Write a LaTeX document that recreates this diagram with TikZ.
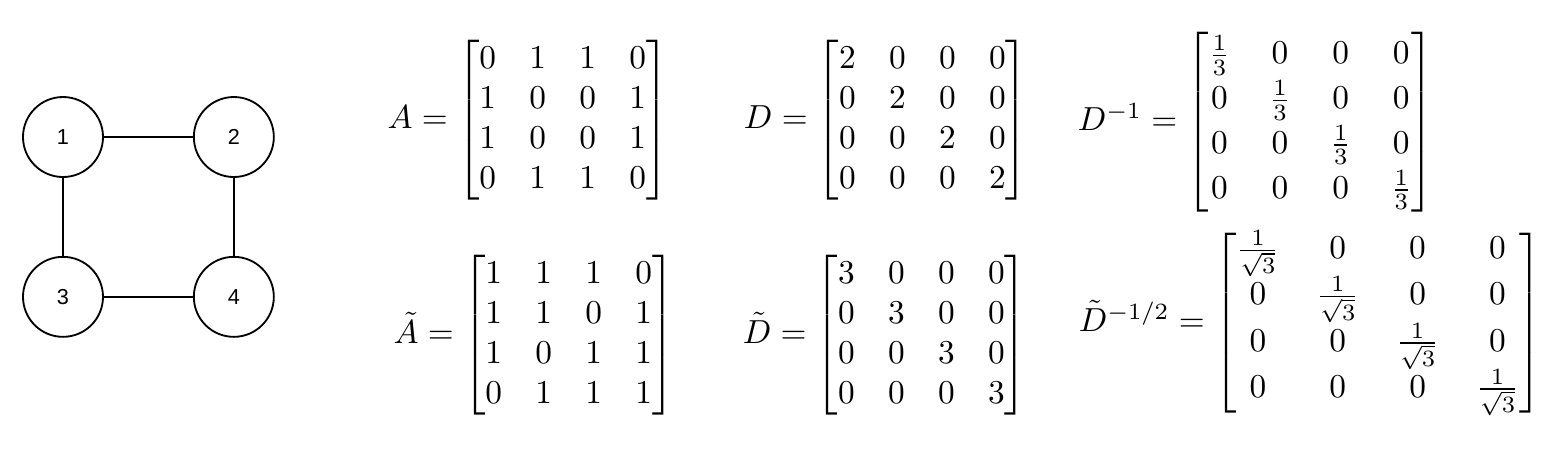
\documentclass[tikz,border=0pt]{standalone}
\usepackage{amsmath}
\usepackage{fontspec}
\newfontfamily\vertexfont{Liberation Sans}
\usetikzlibrary{positioning}

\begin{document}
\begin{tikzpicture}[
		x=0.3pt, y=-0.3pt,
		node distance=23.4pt and 26.7pt,
		vertex/.style={draw, circle, line width=0.55pt, minimum size=24pt, inner sep=0pt, font=\vertexfont\fontsize{6.5}{7.5}\selectfont},
		edge/.style={line width=0.55pt},
		eqn/.style={inner sep=0pt},
	]
		\useasboundingbox (0,0) rectangle (1558,450);

		\node (v1) [vertex] at (63,137) {1};
		\node (v2) [vertex, right=of v1] {2};
		\node (v3) [vertex, below=of v1] {3};
		\node (v4) [vertex, right=of v3] {4};

		\draw[edge] (v1) -- (v2);
		\draw[edge] (v1) -- (v3);
		\draw[edge] (v2) -- (v4);
		\draw[edge] (v3) -- (v4);

		\node (adj) [eqn] at (528,120) {$A = \begin{bmatrix} 0 & 1 & 1 & 0\\ 1 & 0 & 0 & 1\\ 1 & 0 & 0 & 1\\ 0 & 1 & 1 & 0 \end{bmatrix}$};
		\node (deg) [eqn] at (886,120) {$D = \begin{bmatrix} 2 & 0 & 0 & 0\\ 0 & 2 & 0 & 0\\ 0 & 0 & 2 & 0\\ 0 & 0 & 0 & 2 \end{bmatrix}$};
		\node (deg inv) [eqn] at (1256,122) {\renewcommand{\arraystretch}{1.12}\setlength{\arraycolsep}{5.9pt}$D^{-1} = \begin{bmatrix} \frac{1}{3} & 0 & 0 & 0\\ 0 & \frac{1}{3} & 0 & 0\\ 0 & 0 & \frac{1}{3} & 0\\ 0 & 0 & 0 & \frac{1}{3} \end{bmatrix}$};

		\node (adj loop) [eqn] at (534,335) {$\tilde{A} = \begin{bmatrix} 1 & 1 & 1 & 0\\ 1 & 1 & 0 & 1\\ 1 & 0 & 1 & 1\\ 0 & 1 & 1 & 1 \end{bmatrix}$};
		\node (deg loop) [eqn] at (885,335) {$\tilde{D} = \begin{bmatrix} 3 & 0 & 0 & 0\\ 0 & 3 & 0 & 0\\ 0 & 0 & 3 & 0\\ 0 & 0 & 0 & 3 \end{bmatrix}$};
		\node (deg loop norm) [eqn] at (1310,323) {\setlength{\arraycolsep}{5.5pt}$\tilde{D}^{-1/2} = \begin{bmatrix} \frac{1}{\sqrt{3}} & 0 & 0 & 0\\ 0 & \frac{1}{\sqrt{3}} & 0 & 0\\ 0 & 0 & \frac{1}{\sqrt{3}} & 0\\ 0 & 0 & 0 & \frac{1}{\sqrt{3}} \end{bmatrix}$};
	\end{tikzpicture}
\end{document}
